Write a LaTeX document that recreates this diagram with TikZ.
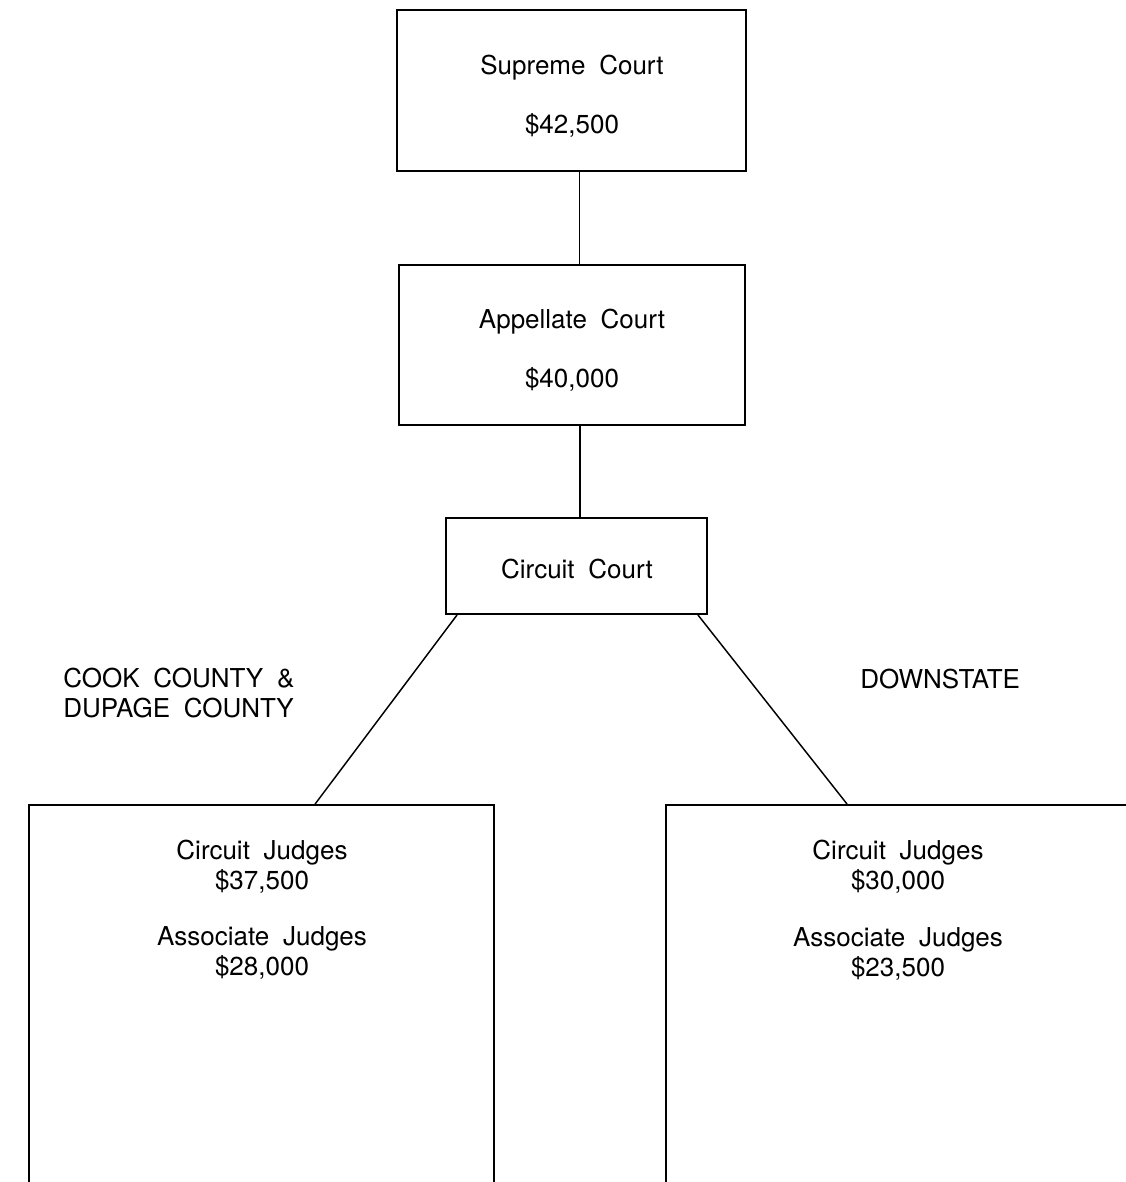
\documentclass[tikz,border=0pt]{standalone}
\usepackage{fontspec}
\setmainfont{TeX Gyre Heros}[WordSpace=1.9]

\begin{document}
\begin{tikzpicture}[x=0.75pt, y=-0.75pt,
        every node/.style={font=\fontsize{19.5}{22.5}\selectfont, inner sep=0pt},
        court/.style={draw, line width=1.4pt},
        link/.style={line width=1.1pt}]
        \useasboundingbox (0,0) rectangle (1126,1182);
        \clip (0,0) rectangle (1126,1182);

        % the three upper courts
        \node[court, minimum width=261.75pt, minimum height=120.75pt] (supreme) at (571.5,90.5) {};
        \node[court, minimum width=259.5pt, minimum height=120pt] (appellate) at (572,345) {};
        \node[court, minimum width=195.75pt, minimum height=72pt] (circuit) at (576.5,566) {};

        \node[align=center] (supremetxt) at (572,96) {Supreme Court\\[22pt]\$42,500};
        \node[align=center] (appellatetxt) at (572,350) {Appellate Court\\[22pt]\$40,000};
        \node (circuittxt) at (577,569) {Circuit Court};

        % the two circuit court boxes (run off the page)
        \node[court, minimum width=348.75pt, minimum height=296.25pt] (cook) at (261.5,1002.5) {};
        \node[court, minimum width=349.5pt, minimum height=296.25pt] (down) at (899,1002.5) {};

        \node[align=center] (cookcj) at (262,867) {Circuit Judges\\\$37,500};
        \node[align=center] (cookaj) at (262,953) {Associate Judges\\\$28,000};
        \node[align=center] (downcj) at (898,867) {Circuit Judges\\\$30,000};
        \node[align=center] (downaj) at (898,954) {Associate Judges\\\$23,500};

        \node[align=left, anchor=west] (cooklbl) at (63,693.5) {COOK COUNTY \&\\DUPAGE COUNTY};
        \node[anchor=west] (downlbl) at (860,679) {DOWNSTATE};

        % connecting lines
        \draw[link] ([xshift=6pt]supreme.south) -- ([xshift=6pt]supreme.south |- appellate.north);
        \draw[link] ([xshift=6pt]appellate.south) -- ([xshift=6pt]appellate.south |- circuit.north);
        \draw[link] ([xshift=9pt]circuit.south west) -- ([xshift=215.25pt]cook.north west);
        \draw[link] ([xshift=-7.5pt]circuit.south east) -- ([xshift=136.5pt]down.north west);
    \end{tikzpicture}
\end{document}
